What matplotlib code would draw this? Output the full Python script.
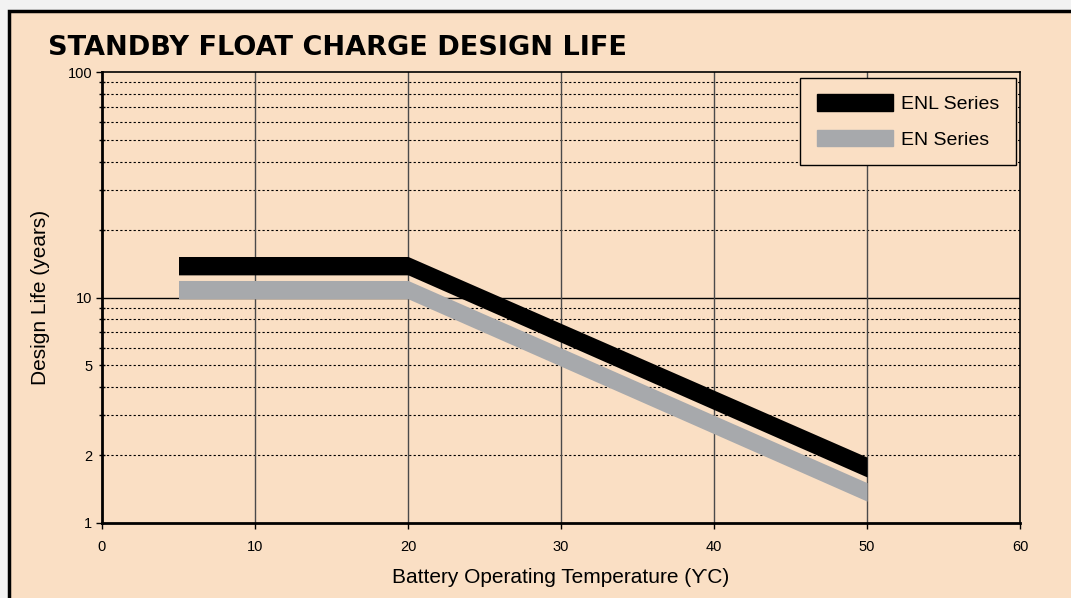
import matplotlib
matplotlib.use('Agg')
import matplotlib.pyplot as plt
from matplotlib.patches import Rectangle, Patch

plt.rcParams['font.family'] = ['Liberation Sans', 'DejaVu Sans']

# data
temps = [5, 20, 50]
enl_upper = [15.2, 15.2, 1.96]
enl_lower = [12.6, 12.6, 1.60]
en_upper = [11.9, 11.9, 1.51]
en_lower = [9.87, 9.87, 1.25]

x_ticks = [0, 10, 20, 30, 40, 50, 60]
y_major = [1, 10, 100]
y_minor = [2, 3, 4, 5, 6, 7, 8, 9, 20, 30, 40, 50, 60, 70, 80, 90]
y_minor_labels = {2: '2', 5: '5'}

cream = '#FADFC4'
grey = '#A7A9AC'

fig = plt.figure(figsize=(10.71, 5.98), dpi=100)
fig.patch.set_facecolor('#F2F2F2')

# outer panel with black border (left and top edges visible)
W, H = 1071, 598
panel = Rectangle((9 / W, -0.05), 1.2, (H - 11) / H + 0.05, transform=fig.transFigure,
                  facecolor=cream, edgecolor='black', linewidth=2.5, zorder=-10)
fig.patches.append(panel)

ax = fig.add_axes([102 / W, (H - 523) / H, (1020 - 102) / W, (523 - 72) / H])
ax.set_zorder(1)
ax.set_facecolor(cream)
ax.set_yscale('log')
ax.set_xlim(0, 60)
ax.set_ylim(1, 100)

# grid lines
for v in y_minor:
    ax.axhline(v, color='black', lw=0.8, ls=(0, (2, 2)), zorder=1)
ax.axhline(10, color='black', lw=1.0, zorder=1)
for t in x_ticks[1:-1]:
    ax.axvline(t, color='#4a4a4a', lw=1.0, zorder=1)

# bands
ax.fill_between(temps, enl_lower, enl_upper, color='black', lw=0, zorder=3)
ax.fill_between(temps, en_lower, en_upper, color=grey, lw=0, zorder=3)

ax.set_xticks(x_ticks)
ax.set_yticks(y_major)
ax.set_yticklabels(['1', '10', '100'])
ax.set_yticks(y_minor, minor=True)
ax.set_yticklabels([y_minor_labels.get(v, '') for v in y_minor], minor=True)
ax.tick_params(axis='both', which='major', direction='out', length=4, width=1,
               labelsize=10.5, pad=3)
ax.tick_params(axis='y', which='minor', direction='inout', length=4, width=1,
               labelsize=10.5, pad=5)
ax.tick_params(axis='x', pad=8)

for side in ['left', 'bottom']:
    ax.spines[side].set_linewidth(2)
for side in ['top', 'right']:
    ax.spines[side].set_linewidth(1.2)

ax.set_xlabel('Battery Operating Temperature (ϒC)', fontsize=15, labelpad=10)
ax.set_ylabel('Design Life (years)', fontsize=15, labelpad=13)

handles = [Patch(facecolor='black', edgecolor='black'),
           Patch(facecolor=grey, edgecolor=grey)]
leg = ax.legend(handles, ['ENL Series', 'EN Series'], loc='upper right',
                bbox_to_anchor=(0.9957, 0.987), fontsize=14, frameon=True,
                fancybox=False, borderpad=0.85, handlelength=3.95, handleheight=0.93,
                handletextpad=0.4, labelspacing=0.85, borderaxespad=0)
leg.get_frame().set_facecolor(cream)
leg.get_frame().set_edgecolor('black')
leg.get_frame().set_linewidth(1.0)
leg.get_frame().set_alpha(1)
leg.set_zorder(5)

fig.text(48 / W, (H - 55) / H, 'STANDBY FLOAT CHARGE DESIGN LIFE',
         fontsize=19.5, fontweight='black', family=['DejaVu Sans'],
         ha='left', va='baseline')

plt.savefig('out.png', dpi=100, facecolor=fig.get_facecolor())
